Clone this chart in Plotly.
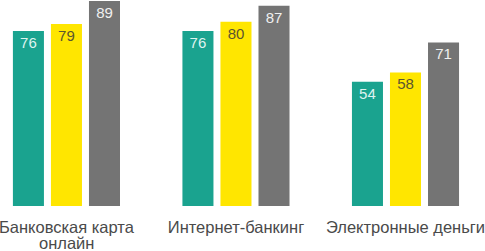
import plotly.graph_objects as go

categories = ["Банковская карта", "Интернет-банкинг", "Электронные деньги"]
second_lines = ["онлайн", "", ""]
series_names = ["A", "B", "C"]
values_a = [76, 76, 54]
values_b = [79, 80, 58]
values_c = [89, 87, 71]

colors = ["#1AA38F", "#FFE600", "#747474"]
text_colors = ["#dff3ef", "#5b5530", "#f0f0f0"]
FONT = "Arial, Liberation Sans, sans-serif"

fig = go.Figure()
for name, vals, col, tcol in zip(series_names, [values_a, values_b, values_c], colors, text_colors):
    fig.add_trace(go.Bar(
        x=categories, y=vals, name=name, marker=dict(color=col, line=dict(width=0)),
        text=[str(v) for v in vals], textposition="inside", insidetextanchor="end",
        textfont=dict(family=FONT, size=15, color=tcol), constraintext="none",
        textangle=0, hoverinfo="skip",
    ))

for cat, extra in zip(categories, second_lines):
    if extra:
        fig.add_annotation(x=cat, xref="x", y=0, yref="paper", text=extra,
                           showarrow=False, yanchor="top", yshift=-26,
                           font=dict(family=FONT, size=16.5, color="#4a4a4a"))

fig.update_layout(
    width=485, height=251, margin=dict(l=0, r=0, t=0, b=45, autoexpand=False),
    barmode="group", bargap=0.327, bargroupgap=0.184,
    plot_bgcolor="white", paper_bgcolor="white", showlegend=False,
    font=dict(family=FONT),
)
fig.update_xaxes(range=[-0.392, 2.469], showgrid=False, showline=False, zeroline=False,
                 automargin=False, ticks="", ticklabelstandoff=9,
                 tickfont=dict(family=FONT, size=16.5, color="#4a4a4a"))
fig.update_yaxes(range=[0, 89.45], visible=False, showgrid=False, zeroline=False,
                 automargin=False)

fig.write_html("out.html", config={"displayModeBar": False},
               post_script="document.body.style.margin='0';document.body.style.overflow='hidden';")
